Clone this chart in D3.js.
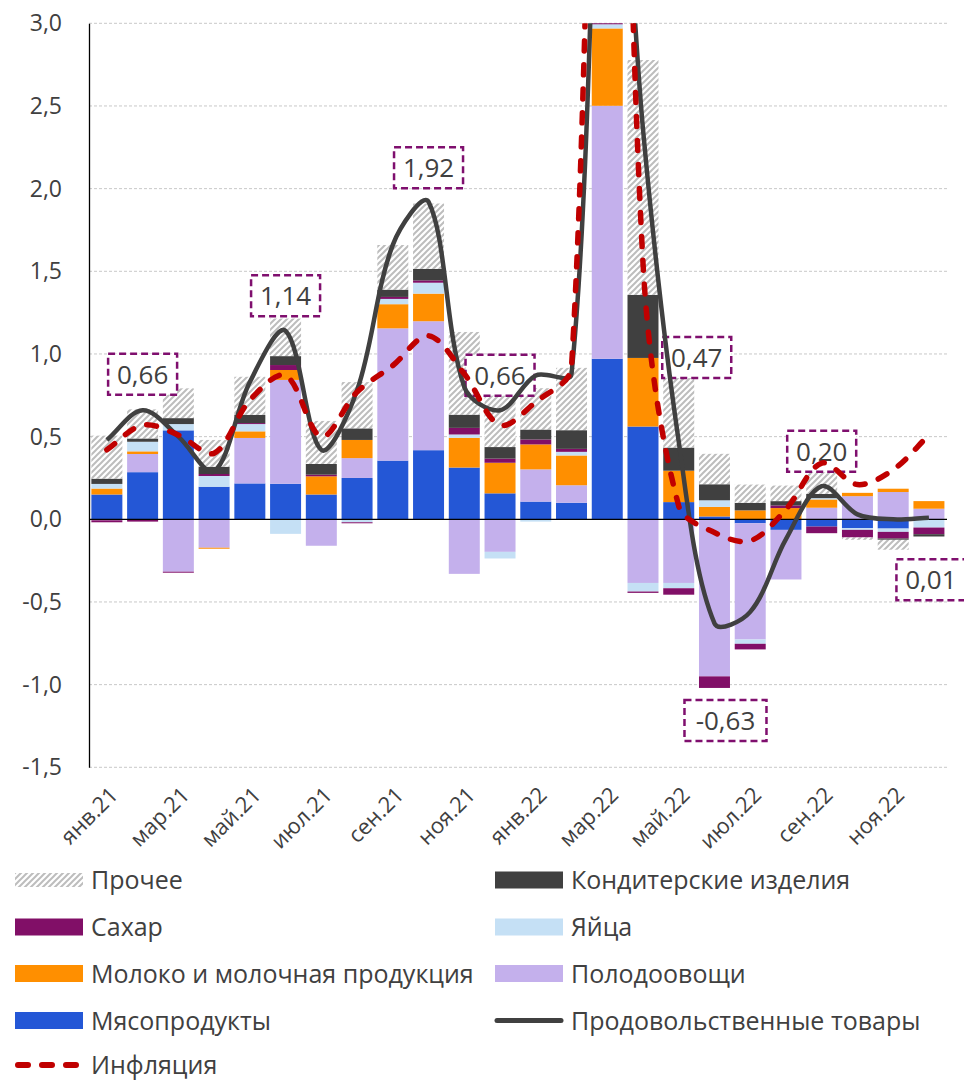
<!DOCTYPE html>
<html><head><meta charset="utf-8">
<script src="https://cdn.jsdelivr.net/npm/d3@7"></script>
<style>body{margin:0;background:#fff}svg{display:block;font-family:"Open Sans","Noto Sans",sans-serif}</style>
</head><body><svg id="c" width="964" height="1081"></svg>
<script>
const months = ["янв.21","фев.21","мар.21","апр.21","май.21","июн.21","июл.21","авг.21","сен.21","окт.21","ноя.21","дек.21","янв.22","фев.22","мар.22","апр.22","май.22","июн.22","июл.22","авг.22","сен.22","окт.22","ноя.22","дек.22"];
const seriesNames = ["Мясопродукты","Полодоовощи","Молоко и молочная продукция","Яйца","Сахар","Кондитерские изделия","Прочее"];
const meat   = [0.15,0.285,0.538,0.197,0.217,0.215,0.15,0.25,0.355,0.418,0.313,0.157,0.107,0.1,0.971,0.561,0.104,0.017,-0.024,-0.064,-0.044,-0.054,-0.056,0];
const veg    = [-0.006,0.11,-0.317,-0.172,0.275,0.628,-0.16,0.12,0.8,0.78,-0.33,-0.197,0.195,0.106,1.53,-0.385,-0.385,-0.95,-0.703,-0.30,0.07,0.14,0.165,0.064];
const milk   = [0.036,0.016,0,-0.006,0.04,0.06,0.11,0.11,0.146,0.167,0.18,0.185,0.151,0.18,0.468,0.415,0.19,0.058,0.054,0.068,0.05,0.02,0.02,0.046];
const eggs   = [0.028,0.058,0.038,0.065,0.044,-0.088,0,-0.018,0.032,0.066,0.02,-0.04,-0.014,0.022,0.025,-0.052,-0.032,0.04,-0.026,0,0.008,-0.01,-0.02,-0.05];
const sugar  = [-0.012,-0.014,-0.006,0.012,0.006,0.03,0.01,-0.006,0.012,0.014,0.04,0.025,0.03,0.018,0.05,-0.008,-0.039,-0.07,-0.034,0.016,-0.04,-0.046,-0.04,-0.04];
const sweets = [0.032,0.02,0.036,0.044,0.05,0.054,0.065,0.07,0.044,0.07,0.08,0.07,0.06,0.113,0.45,0.382,0.14,0.097,0.046,0.026,0.026,0,-0.008,-0.014];
const other  = [0.26,0.176,0.18,0.162,0.23,0.227,0.26,0.28,0.27,0.395,0.5,0.45,0.25,0.377,1.7,1.42,0.47,0.184,0.11,0.094,0.13,-0.014,-0.06,0];
const food      = [0.48,0.66,0.50,0.29,0.83,1.14,0.42,0.78,1.66,1.92,0.80,0.66,0.87,0.88,5.2,2.36,0.47,-0.63,-0.56,-0.12,0.20,0.03,0.0,0.01];
const inflation = [0.42,0.57,0.51,0.40,0.72,0.87,0.50,0.77,0.93,1.11,0.88,0.57,0.71,0.92,8.0,1.55,0.08,-0.08,-0.13,0.06,0.34,0.21,0.30,0.51];
const yTicks = [-1.5,-1.0,-0.5,0,0.5,1.0,1.5,2.0,2.5,3.0];
const labelIndex = [1,5,9,11,16,17,20,23];
// layout: offset of label box centre from its data point (px)
const labelOffset = [[0,-36],[0,-35],[0,-34],[0,-35],[18,-84],[11,97],[0,-35],[2,62]];

const colors = ["#2457d6","#c4b0ec","#ff8f00","#c5e0f5","#810f67","#404040","url(#hatch)"];
const TXT = "#404040";
const svg = d3.select("#c");
const defs = svg.append("defs");
const pat = defs.append("pattern").attr("id","hatch").attr("patternUnits","userSpaceOnUse").attr("width",6).attr("height",6);
pat.append("rect").attr("width",6).attr("height",6).attr("fill","#fff");
pat.append("path").attr("d","M-1,1 l2,-2 M0,6 l6,-6 M5,7 l2,-2").attr("stroke","#bdbdbd").attr("stroke-width",2);
defs.append("clipPath").attr("id","clip").append("rect").attr("x",89).attr("y",23.3).attr("width",875).attr("height",745);

const x = d3.scaleBand().domain(months).range([89,946.8]).paddingInner(0.133).paddingOuter(0.0665);
const y = d3.scaleLinear().domain([-1.5,3]).range([767.3,23.3]);
const fmt = v => d3.format(".1f")(v).replace(".",",").replace("−","-");
const fmt2 = v => d3.format(".2f")(v).replace(".",",").replace("−","-");

// grid
svg.append("g").selectAll("line").data(yTicks.filter(d=>d!==0)).join("line")
  .attr("x1",89).attr("x2",947).attr("y1",d=>y(d)).attr("y2",d=>y(d))
  .attr("stroke","#c8c8c8").attr("stroke-width",1).attr("stroke-dasharray","3,2");

// y axis
const yAxis = svg.append("g").attr("transform","translate(89,0)")
  .call(d3.axisLeft(y).tickValues(yTicks).tickFormat(fmt).tickSize(0).tickPadding(27));
yAxis.select(".domain").attr("stroke","#000").attr("stroke-width",1.3);
yAxis.selectAll("text").attr("fill",TXT).style("font-size","23px").style("font-family","'Open Sans',sans-serif");

// stacked bars
const table = months.map((m,i)=>({month:m, s0:meat[i], s1:veg[i], s2:milk[i], s3:eggs[i], s4:sugar[i], s5:sweets[i], s6:other[i]}));
const keys = ["s0","s1","s2","s3","s4","s5","s6"];
const stack = d3.stack().keys(keys).offset(d3.stackOffsetDiverging)(table);
const plot = svg.append("g").attr("clip-path","url(#clip)");
plot.selectAll("g.s").data(stack).join("g").attr("class","s").attr("fill",(d,i)=>colors[i])
  .selectAll("rect").data(d=>d).join("rect")
  .attr("x",d=>x(d.data.month)).attr("width",x.bandwidth())
  .attr("y",d=>y(Math.max(d[0],d[1]))).attr("height",d=>Math.abs(y(d[0])-y(d[1])));

// zero line
svg.append("line").attr("x1",89).attr("x2",947).attr("y1",y(0)).attr("y2",y(0)).attr("stroke","#000").attr("stroke-width",1.3);

// label boxes
const lab = svg.append("g");
labelIndex.forEach((idx,k)=>{
  const cx = x(months[idx]) + x.bandwidth()/2 + labelOffset[k][0];
  const cy = y(food[idx]) + labelOffset[k][1];
  const t = fmt2(food[idx]);
  const w = t.length*13 + 17, h = 41;
  lab.append("rect").attr("x",cx-w/2).attr("y",cy-h/2).attr("width",w).attr("height",h)
    .attr("fill","#fff").attr("stroke","#7f0f6e").attr("stroke-width",2.5).attr("stroke-dasharray","7,4");
  lab.append("text").attr("x",cx).attr("y",cy).attr("dy","0.36em").attr("text-anchor","middle")
    .attr("fill",TXT).style("font-size","26px").text(t);
});

// smoothed lines (spreadsheet-style Bezier smoothing, control arms scaled by neighbouring segment lengths)
function smoothPath(values){
  const pts = values.map((v,i)=>[x(months[i])+x.bandwidth()/2, y(v)]);
  const T = 1/3, dist=(a,b)=>Math.hypot(b[0]-a[0],b[1]-a[1]);
  const p = d3.path();
  p.moveTo(pts[0][0],pts[0][1]);
  for(let i=0;i<pts.length-1;i++){
    const P0=pts[i-1]||pts[i], P1=pts[i], P2=pts[i+1], P3=pts[i+2]||pts[i+1];
    const d01=dist(P0,P1), d12=dist(P1,P2), d23=dist(P2,P3);
    const fb = T*d12/(d01+d12);
    const fa = T*d12/(d12+d23);
    const c1=[P1[0]+fb*(P2[0]-P0[0]), P1[1]+fb*(P2[1]-P0[1])];
    const c2=[P2[0]-fa*(P3[0]-P1[0]), P2[1]-fa*(P3[1]-P1[1])];
    p.bezierCurveTo(c1[0],c1[1],c2[0],c2[1],P2[0],P2[1]);
  }
  return p.toString();
}
const lines = svg.append("g").attr("clip-path","url(#clip)");
lines.append("path").attr("d",smoothPath(food)).attr("fill","none").attr("stroke","#404040").attr("stroke-width",4.5).attr("stroke-linejoin","round");
lines.append("path").attr("d",smoothPath(inflation)).attr("fill","none").attr("stroke","#c00000").attr("stroke-width",5.5)
  .attr("stroke-dasharray","10,14").attr("stroke-linecap","round");

// x labels
svg.append("g").selectAll("text").data(months.filter((m,i)=>i%2===0)).join("text")
  .attr("transform",d=>`translate(${x(d)+x.bandwidth()/2+7},${791}) rotate(-45)`)
  .attr("text-anchor","end").attr("dy","0.35em").attr("fill",TXT).style("font-size","22px").text(d=>d);

// legend
const leg = svg.append("g").style("font-size","25px");
const legendItems = [
  {name:"Прочее", type:"rect", fill:"url(#hatch)", col:0, row:0, h:14},
  {name:"Кондитерские изделия", type:"rect", fill:colors[5], col:1, row:0, h:17},
  {name:"Сахар", type:"rect", fill:colors[4], col:0, row:1, h:17},
  {name:"Яйца", type:"rect", fill:colors[3], col:1, row:1, h:17},
  {name:"Молоко и молочная продукция", type:"rect", fill:colors[2], col:0, row:2, h:17},
  {name:"Полодоовощи", type:"rect", fill:colors[1], col:1, row:2, h:17},
  {name:"Мясопродукты", type:"rect", fill:colors[0], col:0, row:3, h:17},
  {name:"Продовольственные товары", type:"line", col:1, row:3},
  {name:"Инфляция", type:"dash", col:0, row:4}
];
const colX = [15,495], rowY = [880,927,973.5,1020.5,1065];
legendItems.forEach(it=>{
  const sx = colX[it.col], sy = rowY[it.row];
  if(it.type==="rect") leg.append("rect").attr("x",sx).attr("y",sy-it.h/2).attr("width",68).attr("height",it.h).attr("fill",it.fill);
  else if(it.type==="line") leg.append("line").attr("x1",sx+2).attr("x2",sx+66).attr("y1",sy).attr("y2",sy).attr("stroke","#404040").attr("stroke-width",5).attr("stroke-linecap","round");
  else leg.append("line").attr("x1",sx+3).attr("x2",sx+66).attr("y1",sy).attr("y2",sy).attr("stroke","#c00000").attr("stroke-width",6).attr("stroke-dasharray","10,14").attr("stroke-linecap","round");
  leg.append("text").attr("x",sx+76).attr("y",sy).attr("dy","0.36em").attr("fill",TXT).text(it.name);
});
</script></body></html>
